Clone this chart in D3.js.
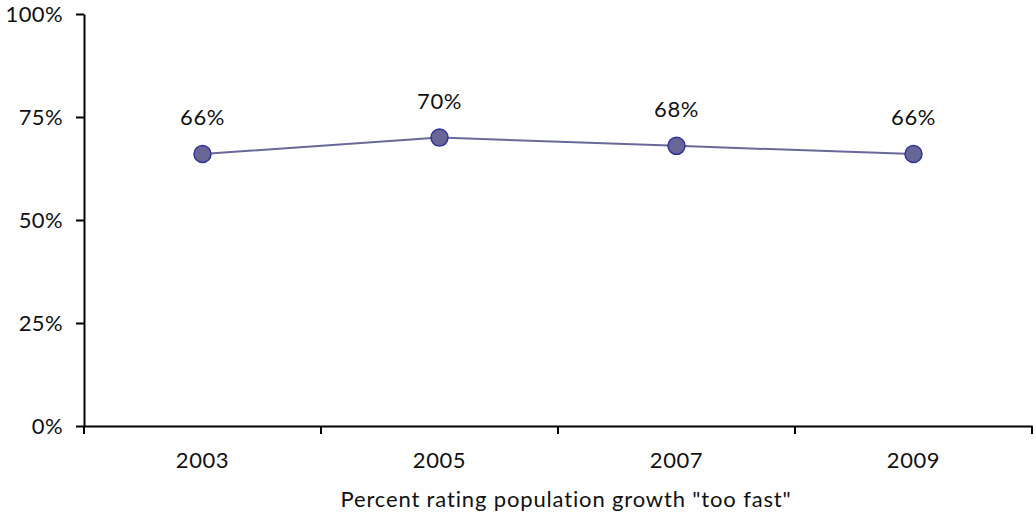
<!DOCTYPE html>
<html><head><meta charset="utf-8">
<script src="https://cdn.jsdelivr.net/npm/d3@7"></script>
<style>body{margin:0;background:#fff}text{font-family:Lato,"Open Sans",sans-serif;fill:#111}</style>
</head><body><svg id="c" width="1036" height="516"></svg>
<script>
const years = ["2003","2005","2007","2009"];
const values = [66,70,68,66];
const yTicks = [0,25,50,75,100];
const xTitle = 'Percent rating population growth "too fast"';

(function(){
const svg = d3.select("#c");
const mLeft = 84, mRight = 1032, mTop = 14, mBottom = 426;
const fs = "22px";
const x = d3.scaleBand().domain(years).range([mLeft, mRight]);
const y = d3.scaleLinear().domain([0,100]).range([mBottom, mTop]);

const yAxis = svg.append("g").attr("transform",`translate(${mLeft},0)`)
  .call(d3.axisLeft(y).tickValues(yTicks).tickFormat(d=>d+"%").tickSize(8).tickSizeOuter(0));
yAxis.select(".domain").attr("stroke","#000").attr("stroke-width",2);
yAxis.selectAll(".tick line").attr("stroke","#000").attr("stroke-width",2);
yAxis.selectAll(".tick text").attr("x",-21).style("font-size",fs).style("letter-spacing","0.4px").attr("dy","0.35em").attr("fill","#111");

const xAxis = svg.append("g").attr("transform",`translate(0,${mBottom})`)
  .call(d3.axisBottom(x).tickSize(0).tickSizeOuter(0));
xAxis.select(".domain").attr("stroke","#000").attr("stroke-width",2);
xAxis.selectAll(".tick text").attr("y",26).attr("dy","0.71em").style("font-size",fs).style("letter-spacing","0.6px").attr("fill","#111");
const bounds = years.map(d=>x(d)).concat([x(years[years.length-1])+x.bandwidth()]);
xAxis.selectAll(".btick").data(bounds).enter().append("line")
  .attr("x1",d=>d).attr("x2",d=>d).attr("y1",0).attr("y2",8)
  .attr("stroke","#000").attr("stroke-width",2);

svg.append("text").attr("x",(mLeft+mRight)/2 + 8).attr("y",507)
  .attr("text-anchor","middle").style("font-size",fs).style("letter-spacing","0.85px").text(xTitle);

const cx = d => x(d) + x.bandwidth()/2;
const line = d3.line().x((d,i)=>cx(years[i])).y(d=>y(d));
svg.append("path").datum(values).attr("d",line).attr("fill","none")
  .attr("stroke","#68689a").attr("stroke-width",2);
svg.selectAll(".pt").data(values).enter().append("circle")
  .attr("cx",(d,i)=>cx(years[i])).attr("cy",d=>y(d)).attr("r",8.5)
  .attr("fill","#676696").attr("stroke","#33339a").attr("stroke-width",1.5);
svg.selectAll(".lbl").data(values).enter().append("text")
  .attr("x",(d,i)=>cx(years[i])).attr("y",d=>y(d)-29)
  .attr("text-anchor","middle").style("font-size",fs).style("letter-spacing","0.6px").text(d=>d+"%");
})();
</script></body></html>
